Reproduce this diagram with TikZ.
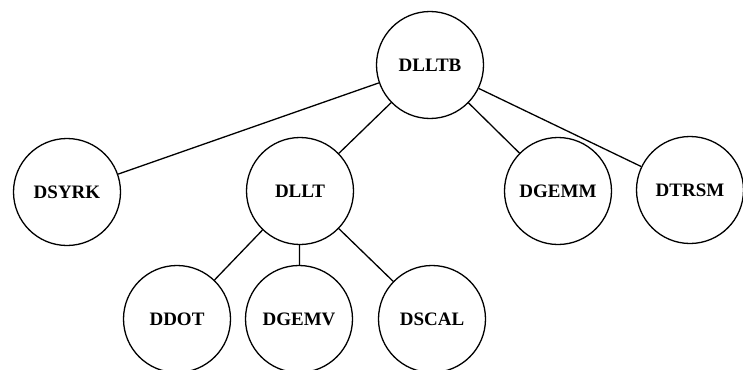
\documentclass[tikz,border=0pt]{standalone}
\usepackage{fontspec}
\setmainfont{Liberation Serif}
\usepackage{tikz}

\begin{document}
\begin{tikzpicture}[x=1pt, y=1pt,
    routine/.style={circle, draw, line width=1.3pt, minimum size=107pt, inner sep=0pt, font=\fontsize{19}{22}\selectfont\bfseries},
    link/.style={line width=1.3pt}]
\useasboundingbox (0,0) rectangle (743,-369);

\node[routine] (DLLTB) at (430,-65) {DLLTB};
\node[routine] (DSYRK) at (67,-192) {DSYRK};
\node[routine] (DLLT) at (300,-191) {DLLT};
\node[routine] (DGEMM) at (558,-191) {DGEMM};
\node[routine] (DTRSM) at (690,-190) {DTRSM};
\node[routine] (DDOT) at (177,-319) {DDOT};
\node[routine] (DGEMV) at (299,-319) {DGEMV};
\node[routine] (DSCAL) at (432,-319) {DSCAL};

\draw[link] (DLLTB) -- (DSYRK);
\draw[link] (DLLTB) -- (DLLT);
\draw[link] (DLLTB) -- (DGEMM);
\draw[link] (DLLTB) -- (DTRSM);
\draw[link] (DLLT) -- (DDOT);
\draw[link] (DLLT) -- (DGEMV);
\draw[link] (DLLT) -- (DSCAL);
\end{tikzpicture}
\end{document}
